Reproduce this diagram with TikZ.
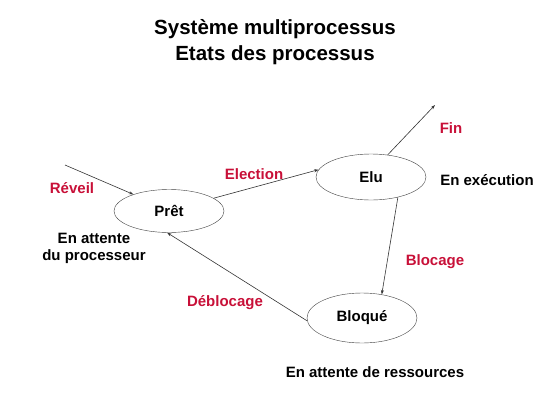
\documentclass[tikz,border=0pt]{standalone}
\usepackage{fontspec}
\setmainfont{Liberation Sans}
\usetikzlibrary{shapes.geometric,arrows.meta}
\definecolor{rougeetat}{RGB}{200,16,56}
\begin{document}
\begin{tikzpicture}[x=1pt, y=-1pt, >={Stealth[length=4.5pt,width=3pt]},
  etat/.style={draw=black!75, ellipse, minimum width=110pt, minimum height=46pt, inner sep=0pt, font=\bfseries\fontsize{15}{18}\selectfont},
  trans/.style={font=\bfseries\fontsize{15}{18}\selectfont, text=rougeetat},
  note/.style={font=\bfseries\fontsize{15}{17}\selectfont, align=center},
  fleche/.style={->, draw=black!80, line width=0.6pt}]

  \useasboundingbox (0,0) rectangle (550,413);

  % --- 1. Titre ---
  \node[font=\bfseries\fontsize{20.5}{25.5}\selectfont, align=center] (titre) at (275,42)
    {Système multiprocessus\\Etats des processus};

  % --- 2. Les trois états ---
  \node[etat, minimum height=43pt] (pret) at (169,211) {Prêt};
  \node[etat] (elu) at (371,177) {Elu};
  \node[etat, minimum height=50pt] (bloque) at (362,318) {Bloqué};

  % --- 3. Extrémités libres ---
  \coordinate (entree) at (65,165);
  \coordinate (sortie) at (435,105);

  % --- 4. Transitions ---
  \draw[fleche] (entree) -- (pret.155);
  \draw[fleche] (pret.16) -- (elu.172);
  \draw[fleche] (elu.53) -- (sortie);
  \draw[fleche] (elu.-37) -- (bloque.50);
  \draw[fleche] (bloque.183) -- (pret.265);

  % --- 5. Noms des transitions ---
  \node[trans] (reveil) at (72,188) {Réveil};
  \node[trans] (election) at (254,174) {Election};
  \node[trans] (fin) at (451,128) {Fin};
  \node[trans] (blocage) at (435,262) {Blocage};
  \node[trans] (deblocage) at (225,303) {Déblocage};

  % --- 6. Commentaires des états ---
  \node[note] (attproc) at (94,248) {En attente\\du processeur};
  \node[note] (exec) at (487,180) {En exécution};
  \node[note] (attres) at (375,372) {En attente de ressources};

\end{tikzpicture}
\end{document}
